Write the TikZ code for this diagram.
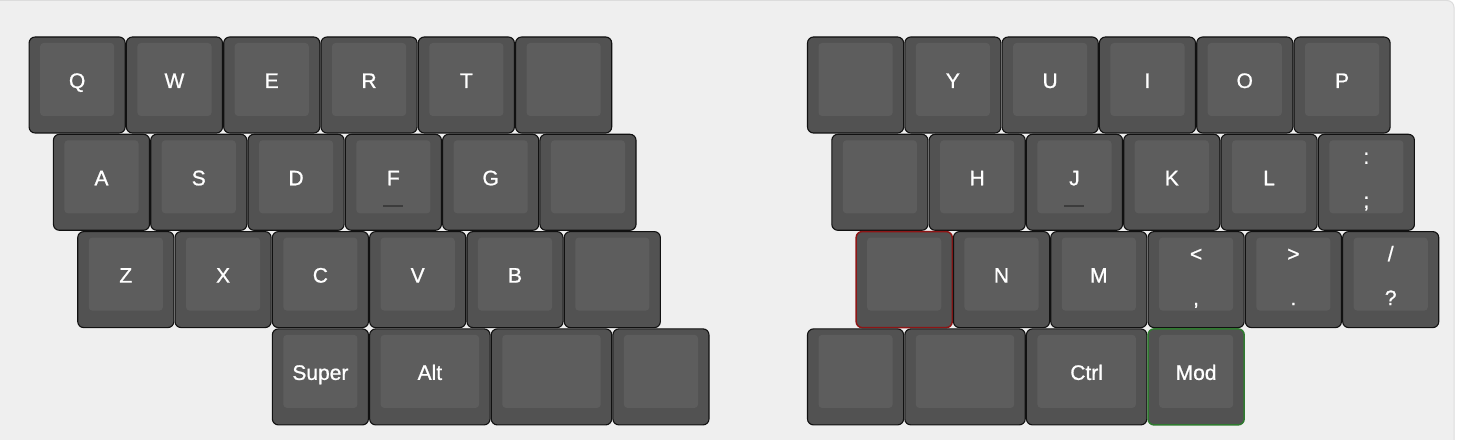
\documentclass[tikz,border=0pt]{standalone}
\usepackage{fontspec}
\setmainfont{Liberation Sans}
\newfontfamily\capfont[BoldFont={Liberation Sans},BoldFeatures={FakeBold=0.9}]{Liberation Sans}
\definecolor{panelbg}{HTML}{EFEFEF}
\definecolor{panelline}{HTML}{DCDCDC}
\definecolor{capout}{HTML}{525252}
\definecolor{capface}{HTML}{5D5D5D}
\definecolor{capedge}{HTML}{111111}
\definecolor{homebar}{HTML}{3C3C3C}
\definecolor{rededge}{HTML}{8E1515}
\definecolor{greenedge}{HTML}{2F7A2F}
\tikzset{
  keyout/.style={draw=capedge, fill=capout, line width=1.1bp, rounded corners=6bp, inner sep=0pt, outer sep=0pt},
  keyface/.style={fill=capface, rounded corners=3.5bp, inner sep=0pt, outer sep=0pt},
  keylabel/.style={anchor=base, text=white, inner sep=0pt, font=\capfont\bfseries\fontsize{21bp}{22bp}\selectfont},
  homing/.style={draw=homebar, line width=1.6bp},
  redkey/.style={draw=rededge, line width=1.5bp},
  greenkey/.style={draw=greenedge, line width=1.5bp}
}
% #1 name, #2 column offset (units), #3 row, #4 width (units), #5 extra style
\newcommand\capbody[5]{%
  \pgfmathsetmacro\kl{28.5+(#2)*97.3+0.6}%
  \pgfmathsetmacro\kr{28.5+(#2+#4)*97.3-0.6}%
  \pgfmathsetmacro\kt{37+(#3)*97.3}%
  \pgfmathsetmacro\kcx{(\kl+\kr)/2}%
  \pgfmathsetmacro\kw{\kr-\kl}%
  \pgfmathsetmacro\kfw{\kw-22}%
  \node[keyout,#5,minimum width=\kw bp,minimum height=96bp] (#1) at (\kcx,\kt+48) {};
  \node[keyface,minimum width=\kfw bp,minimum height=73bp] (#1f) at (\kcx,\kt+42.5) {};
}
% single legend
\newcommand\capone[6]{%
  \capbody{#1}{#2}{#3}{#4}{#5}%
  \node[keylabel] (#1l) at (\kcx,\kt+51) {#6};
}
% two legends
\newcommand\captwo[7]{%
  \capbody{#1}{#2}{#3}{#4}{#5}%
  \node[keylabel] (#1t) at (\kcx,\kt+29.5) {#6};
  \node[keylabel] (#1b) at (\kcx,\kt+73.5) {#7};
}
\begin{document}
\begin{tikzpicture}[x=1bp,y=-1bp]
\useasboundingbox (0,0) rectangle (1457,440);
\fill[white] (0,0) rectangle (1457,440);
\draw[fill=panelbg, draw=panelline, line width=1bp, rounded corners=7bp] (-12,0.5) rectangle (1454,452);
% ---- left half ----
\capone{kQ}{0}{0}{1}{}{Q}
\capone{kW}{1}{0}{1}{}{W}
\capone{kE}{2}{0}{1}{}{E}
\capone{kR}{3}{0}{1}{}{R}
\capone{kT}{4}{0}{1}{}{T}
\capbody{kLa}{5}{0}{1}{}
\capone{kA}{0.25}{1}{1}{}{A}
\capone{kS}{1.25}{1}{1}{}{S}
\capone{kD}{2.25}{1}{1}{}{D}
\capone{kF}{3.25}{1}{1}{}{F}
\capone{kG}{4.25}{1}{1}{}{G}
\capbody{kLb}{5.25}{1}{1}{}
\capone{kZ}{0.5}{2}{1}{}{Z}
\capone{kX}{1.5}{2}{1}{}{X}
\capone{kC}{2.5}{2}{1}{}{C}
\capone{kV}{3.5}{2}{1}{}{V}
\capone{kB}{4.5}{2}{1}{}{B}
\capbody{kLc}{5.5}{2}{1}{}
\capone{kSuper}{2.5}{3}{1}{}{Super}
\capone{kAlt}{3.5}{3}{1.25}{}{Alt}
\capbody{kLd}{4.75}{3}{1.25}{}
\capbody{kLe}{6}{3}{1}{}
% ---- right half ----
\capbody{kRa}{8}{0}{1}{}
\capone{kY}{9}{0}{1}{}{Y}
\capone{kU}{10}{0}{1}{}{U}
\capone{kI}{11}{0}{1}{}{I}
\capone{kO}{12}{0}{1}{}{O}
\capone{kP}{13}{0}{1}{}{P}
\capbody{kRb}{8.25}{1}{1}{}
\capone{kH}{9.25}{1}{1}{}{H}
\capone{kJ}{10.25}{1}{1}{}{J}
\capone{kK}{11.25}{1}{1}{}{K}
\capone{kL}{12.25}{1}{1}{}{L}
\captwo{kSemi}{13.25}{1}{1}{}{:}{;}
\capbody{kRc}{8.5}{2}{1}{redkey}
\capone{kN}{9.5}{2}{1}{}{N}
\capone{kM}{10.5}{2}{1}{}{M}
\captwo{kComma}{11.5}{2}{1}{}{<}{,}
\captwo{kDot}{12.5}{2}{1}{}{>}{.}
\captwo{kSlash}{13.5}{2}{1}{}{/}{?}
\capbody{kRd}{8}{3}{1}{}
\capbody{kRe}{9}{3}{1.25}{}
\capone{kCtrl}{10.25}{3}{1.25}{}{Ctrl}
\capone{kMod}{11.5}{3}{1}{greenkey}{Mod}
% homing bars
\draw[homing] ([xshift=-10bp,yshift=-72bp]kF.north) -- ([xshift=10bp,yshift=-72bp]kF.north);
\draw[homing] ([xshift=-10bp,yshift=-72bp]kJ.north) -- ([xshift=10bp,yshift=-72bp]kJ.north);
\end{tikzpicture}
\end{document}
